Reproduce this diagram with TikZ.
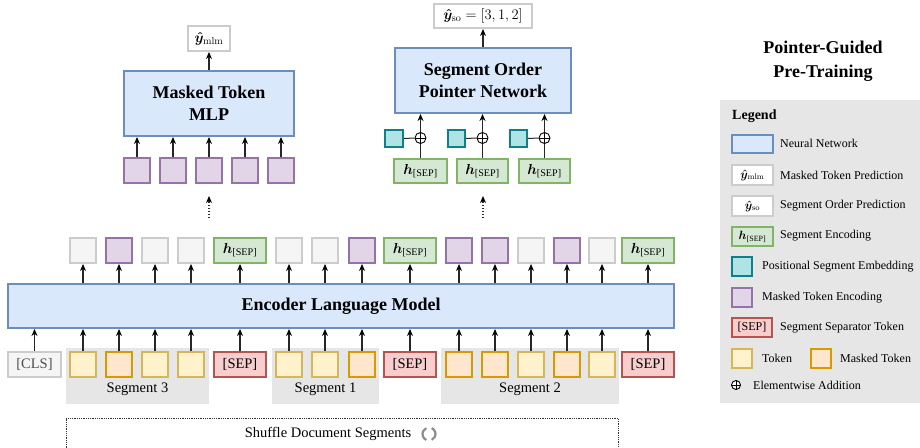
\RequirePackage{fix-cm}
\documentclass[tikz,border=0pt]{standalone}
\usepackage{amsmath,bm}
\usepackage[no-math]{fontspec}
\setmainfont{Liberation Serif}
\usetikzlibrary{arrows.meta}
\definecolor{nnF}{HTML}{DAE8FC}\definecolor{nnD}{HTML}{6C8EBF}
\definecolor{grF}{HTML}{F5F5F5}\definecolor{grD}{HTML}{CCCCCC}
\definecolor{puF}{HTML}{E1D5E7}\definecolor{puD}{HTML}{9673A6}
\definecolor{gnF}{HTML}{D5E8D4}\definecolor{gnD}{HTML}{82B366}
\definecolor{tlF}{HTML}{B0E3E6}\definecolor{tlD}{HTML}{0E8088}
\definecolor{rdF}{HTML}{F8CECC}\definecolor{rdD}{HTML}{B85450}
\definecolor{ylF}{HTML}{FFF2CC}\definecolor{ylD}{HTML}{D6B656}
\definecolor{orF}{HTML}{FFE6CC}\definecolor{orD}{HTML}{D79B00}
\definecolor{segF}{HTML}{E6E6E6}
\newcommand{\bx}[7]{\node[#2, minimum width={#5-#3-2}, minimum height={#6-#4-2}] (#1) at ({(#3+#5)/2},{(#4+#6)/2}) {#7};}
\newcommand{\hsep}{$\bm{h}_{\text{[SEP]}}$}
\begin{document}
\begin{tikzpicture}[x=1pt,y=-1pt,
  box/.style={draw, line width=2pt, inner sep=0pt, font=\fontsize{14.5}{17}\selectfont},
  nn/.style={box, fill=nnF, draw=nnD, font=\fontsize{18}{22}\selectfont\bfseries, align=center},
  outb/.style={box, fill=white, draw=grD},
  gry/.style={box, fill=grF, draw=grD, text=black!70},
  pur/.style={box, fill=puF, draw=puD},
  grn/.style={box, fill=gnF, draw=gnD},
  tea/.style={box, fill=tlF, draw=tlD},
  red/.style={box, fill=rdF, draw=rdD},
  yel/.style={box, fill=ylF, draw=ylD},
  ora/.style={box, fill=orF, draw=orD},
  arr/.style={line width=1.1pt, black!85, -{Stealth[length=7pt,width=6pt,black]}},
  plus/.style={circle, draw, line width=0.9pt, fill=white, inner sep=0pt, minimum size=11pt},
  lbl/.style={font=\fontsize{14.5}{17}\selectfont},
  lg/.style={font=\fontsize{12}{14}\selectfont, anchor=west, inner sep=0pt},
  lgb/.style={font=\fontsize{12}{14}\selectfont}
]
\useasboundingbox (0,0) rectangle (920,447);
% backgrounds
\path[fill=segF] (66,348) rectangle (209,404);
\path[fill=segF] (272,348) rectangle (379,404);
\path[fill=segF] (441,348) rectangle (619,404);
\path[fill=segF] (720,100) rectangle (920,403);
\node[lbl] (seg3) at (137.5,389) {Segment 3};
\node[lbl] (seg1) at (325.5,389) {Segment 1};
\node[lbl] (seg2) at (530,389) {Segment 2};
% shuffle box
\draw[densely dotted, line width=0.8pt, black!80] (66,450) -- (66,418) -- (618,418) -- (618,450);
\node[lbl] (shuf) at (328,434) {Shuffle Document Segments};
\draw[black!45, line width=2.2pt] (429,434) ++(115:6.5) arc (115:245:6.5);
\draw[black!45, line width=2.2pt] (429,434) ++(-65:6.5) arc (-65:65:6.5);
% encoder
\bx{enc}{nn}{7}{283}{675}{329}{Encoder Language Model}
% bottom row
\bx{cls}{gry}{7}{351}{62}{378}{[CLS]}
\bx{t1}{yel}{69}{351}{97}{378}{}
\bx{t2}{ora}{105}{351}{133}{378}{}
\bx{t3}{yel}{141}{351}{169}{378}{}
\bx{t4}{yel}{177}{351}{205}{378}{}
\bx{s1}{red}{213}{351}{267}{378}{[SEP]}
\bx{t5}{yel}{275}{351}{303}{378}{}
\bx{t6}{yel}{311}{351}{339}{378}{}
\bx{t7}{ora}{348}{351}{376}{378}{}
\bx{s2}{red}{383}{351}{437}{378}{[SEP]}
\bx{t8}{ora}{445}{351}{473}{378}{}
\bx{t9}{ora}{481}{351}{509}{378}{}
\bx{t10}{yel}{517}{351}{545}{378}{}
\bx{t11}{ora}{553}{351}{581}{378}{}
\bx{t12}{yel}{588}{351}{616}{378}{}
\bx{s3}{red}{621}{351}{675}{378}{[SEP]}
\foreach \n in {cls,t1,t2,t3,t4,s1,t5,t6,t7,s2,t8,t9,t10,t11,t12,s3}
  \draw[arr] (\n.north) -- (\n.north |- enc.south);
% top row
\bx{o1}{gry}{69}{237}{97}{264}{}
\bx{o2}{pur}{105}{237}{133}{264}{}
\bx{o3}{gry}{141}{237}{169}{264}{}
\bx{o4}{gry}{177}{237}{205}{264}{}
\bx{h1}{grn}{213}{237}{267}{264}{\hsep}
\bx{o5}{gry}{275}{237}{303}{264}{}
\bx{o6}{gry}{311}{237}{339}{264}{}
\bx{o7}{pur}{348}{237}{376}{264}{}
\bx{h2}{grn}{383}{237}{437}{264}{\hsep}
\bx{o8}{pur}{445}{237}{473}{264}{}
\bx{o9}{pur}{481}{237}{509}{264}{}
\bx{o10}{gry}{517}{237}{545}{264}{}
\bx{o11}{pur}{553}{237}{581}{264}{}
\bx{o12}{gry}{588}{237}{616}{264}{}
\bx{h3}{grn}{621}{237}{675}{264}{\hsep}
\foreach \n in {o1,o2,o3,o4,h1,o5,o6,o7,h2,o8,o9,o10,o11,o12,h3}
  \draw[arr] (enc.north -| \n.south) -- (\n.south);
% MLP branch
\bx{mlp}{nn}{123}{70}{295}{137}{Masked Token\\MLP}
\bx{ymlm}{outb}{187}{25}{231}{52}{$\bm{\hat{y}}_{\mathrm{mlm}}$}
\draw[arr] (mlp.north) -- (ymlm.south);
\bx{m1}{pur}{123}{157}{151}{184}{}
\bx{m2}{pur}{159}{157}{187}{184}{}
\bx{m3}{pur}{195}{157}{223}{184}{}
\bx{m4}{pur}{231}{157}{259}{184}{}
\bx{m5}{pur}{267}{157}{295}{184}{}
\foreach \n in {m1,m2,m3,m4,m5}
  \draw[arr] (\n.north) -- (\n.north |- mlp.south);
\coordinate (d1a) at (209,218);
\coordinate (d1b) at (209,196);
\draw[arr, dotted, line width=1.5pt] (d1a) -- (d1b);
% Pointer branch
\bx{ptr}{nn}{394}{47}{572}{114}{Segment Order\\Pointer Network}
\bx{yso}{outb}{433}{3}{533}{29}{$\bm{\hat{y}}_{\mathrm{so}}=[3,1,2]$}
\draw[arr] (ptr.north) -- (yso.south);
\bx{g1}{grn}{393}{158}{448}{184}{\hsep}
\bx{g2}{grn}{456}{158}{509}{184}{\hsep}
\bx{g3}{grn}{518}{158}{571}{184}{\hsep}
\bx{p1}{tea}{384}{129}{404}{148}{}
\bx{p2}{tea}{447}{129}{466}{148}{}
\bx{p3}{tea}{509}{129}{528}{148}{}
\foreach \i/\x in {1/420.5,2/482.5,3/544.5}{
  \node[plus] (c\i) at (\x,138) {};
  \draw[line width=1pt, black!85] (g\i.north) -- (c\i.south);
  \draw[line width=1pt, black!85] (p\i.east) -- (c\i.west);
  \draw[line width=0.9pt] (c\i.west) -- (c\i.east);
  \draw[line width=0.9pt] (c\i.south) -- (c\i.north);
  \draw[arr] (c\i.north) -- (c\i.north |- ptr.south);
}
\coordinate (d2a) at (483,218);
\coordinate (d2b) at (483,196);
\draw[arr, dotted, line width=1.5pt] (d2a) -- (d2b);
% title
\node[font=\fontsize{18}{24}\selectfont\bfseries, align=center] (title) at (823,61) {Pointer-Guided\\Pre-Training};
% legend
\node[font=\fontsize{14}{16}\selectfont\bfseries, anchor=west, inner sep=0pt] (legt) at (732,116) {Legend};
\bx{l1}{nn}{731}{134}{774}{154}{}
\node[lg] (l1t) at (780,143) {Neural Network};
\bx{l2}{outb,lgb}{731}{164}{774}{186}{$\bm{\hat{y}}_{\mathrm{mlm}}$}
\node[lg] (l2t) at (780,175) {Masked Token Prediction};
\bx{l3}{outb,lgb}{731}{195}{774}{217}{$\bm{\hat{y}}_{\mathrm{so}}$}
\node[lg] (l3t) at (780,206) {Segment Order Prediction};
\bx{l4}{grn,lgb}{731}{226}{774}{247}{\hsep}
\node[lg] (l4t) at (780,236) {Segment Encoding};
\bx{l5}{tea}{731}{256}{753}{277}{}
\node[lg] (l5t) at (762,267) {Positional Segment Embedding};
\bx{l6}{pur}{731}{287}{753}{308}{}
\node[lg] (l6t) at (762,298) {Masked Token Encoding};
\bx{l7}{red,lgb}{731}{317}{773}{338}{[SEP]}
\node[lg] (l7t) at (780,328) {Segment Separator Token};
\bx{l8}{yel}{731}{348}{753}{369}{}
\node[lg] (l8t) at (762,358) {Token};
\bx{l9}{ora}{810}{348}{832}{369}{}
\node[lg] (l9t) at (840,358) {Masked Token};
\node[plus, minimum size=9pt] (l10) at (736,385) {};
\draw[line width=0.9pt] (l10.west) -- (l10.east) (l10.north) -- (l10.south);
\node[lg] (l10t) at (753,385) {Elementwise Addition};
\end{tikzpicture}
\end{document}
